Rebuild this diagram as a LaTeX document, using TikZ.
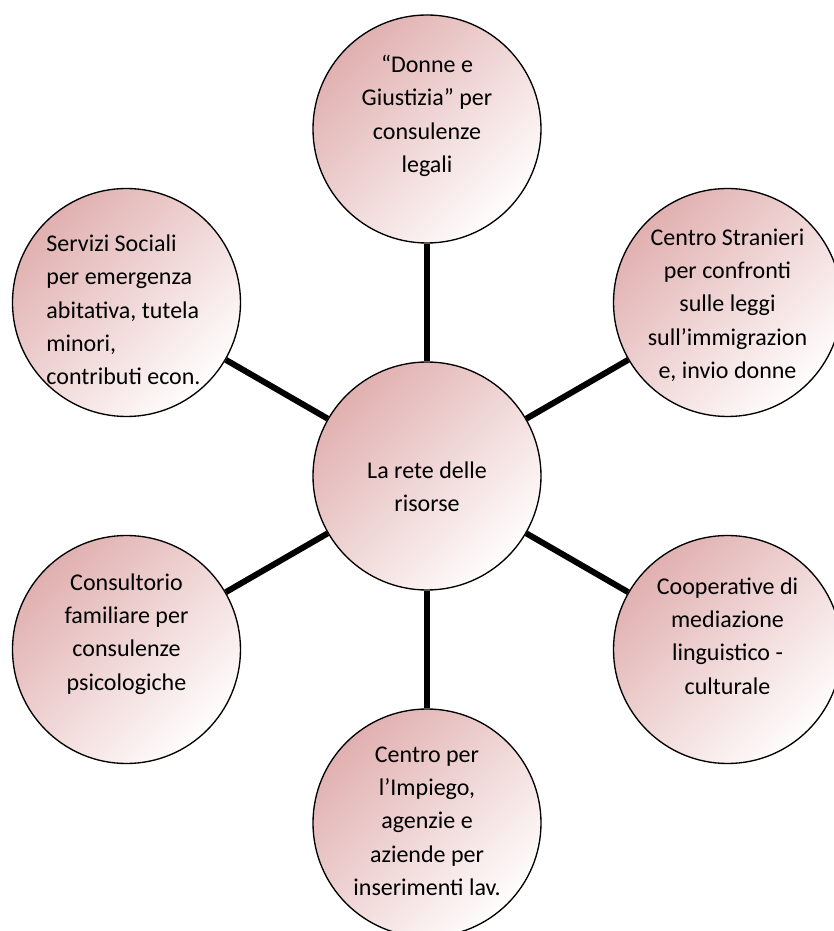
\documentclass[tikz,border=0pt]{standalone}
\usepackage{fontspec}
\setmainfont{Carlito}
\definecolor{rosa}{RGB}{225,176,176}
\definecolor{bianco}{RGB}{255,253,253}
\begin{document}
\begin{tikzpicture}[x=0.75pt,y=0.75pt]
	\tikzstyle{bubble}=[circle,draw=black,line width=1pt,minimum size=171pt,inner sep=0pt,top color=rosa,bottom color=bianco,shading angle=45]
	\tikzstyle{testo}=[align=center,inner sep=0pt,font=\fontsize{18}{25}\selectfont]
	\tikzstyle{spoke}=[black,line width=4.5pt]
	\useasboundingbox (-427,-455) rectangle (406,476);
	% cerchi
	\node [bubble] (hub) at (0,0) {};
	\node [bubble] (legali) at (90:347) {};
	\node [bubble] (stranieri) at (30:347) {};
	\node [bubble] (coop) at (-30:347) {};
	\node [bubble] (impiego) at (-90:347) {};
	\node [bubble] (consultorio) at (-150:347) {};
	\node [bubble] (servizi) at (150:347) {};
	% raggi
	\draw [spoke] (hub) -- (legali);
	\draw [spoke] (hub) -- (stranieri);
	\draw [spoke] (hub) -- (coop);
	\draw [spoke] (hub) -- (impiego);
	\draw [spoke] (hub) -- (consultorio);
	\draw [spoke] (hub) -- (servizi);
	% testi
	\node [testo] (hub-t) at (0,-11) {La rete delle\\risorse};
	\node [testo] (legali-t) at (0,360) {“Donne e\\Giustizia” per\\consulenze\\legali};
	\node [testo] (stranieri-t) at (300.5,171) {Centro Stranieri\\per confronti\\sulle leggi\\sull’immigrazion\\e, invio donne};
	\node [testo] (coop-t) at (300.5,-160) {Cooperative di\\mediazione\\linguistico -\\culturale};
	\node [testo] (impiego-t) at (0,-345) {Centro per\\l’Impiego,\\agenzie e\\aziende per\\inserimenti lav.};
	\node [testo] (consultorio-t) at (-300.5,-158) {Consultorio\\familiare per\\consulenze\\psicologiche};
	\node [testo,align=left] (servizi-t) at (-303.5,166) {Servizi Sociali\\per emergenza\\abitativa, tutela\\minori,\\contributi econ.};
\end{tikzpicture}
\end{document}
